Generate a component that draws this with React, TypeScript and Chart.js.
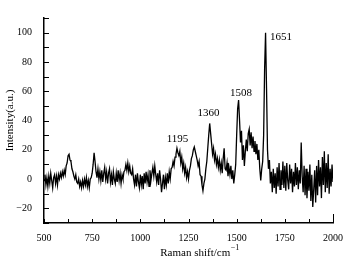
import React, { useEffect, useRef } from 'react';
import { Chart, registerables } from 'chart.js';

Chart.register(...registerables);

// Raman shift (cm^-1)
const ramanShift: number[] = [
  500, 505, 510, 515, 520, 525, 530, 535, 540, 545, 550, 555, 560, 565, 570, 575, 580, 585, 590, 595,
  600, 605, 610, 615, 620, 625, 630, 635, 640, 645, 650, 655, 660, 665, 670, 675, 680, 685, 690, 695,
  700, 705, 710, 715, 720, 725, 730, 735, 740, 745, 750, 755, 760, 765, 770, 775, 780, 785, 790, 795,
  800, 805, 810, 815, 820, 825, 830, 835, 840, 845, 850, 855, 860, 865, 870, 875, 880, 885, 890, 895,
  900, 905, 910, 915, 920, 925, 930, 935, 940, 945, 950, 955, 960, 965, 970, 975, 980, 985, 990, 995,
  1000, 1005, 1010, 1015, 1020, 1025, 1030, 1035, 1040, 1045, 1050, 1055, 1060, 1065, 1070, 1075, 1080, 1085, 1090, 1095,
  1100, 1105, 1110, 1115, 1120, 1125, 1130, 1135, 1140, 1145, 1150, 1155, 1160, 1165, 1170, 1175, 1180, 1185, 1190, 1195,
  1200, 1205, 1210, 1215, 1220, 1225, 1230, 1235, 1240, 1245, 1250, 1255, 1260, 1265, 1270, 1275, 1280, 1285, 1290, 1295,
  1300, 1305, 1310, 1315, 1320, 1325, 1330, 1335, 1340, 1345, 1350, 1355, 1360, 1365, 1370, 1375, 1380, 1385, 1390, 1395,
  1400, 1405, 1410, 1415, 1420, 1425, 1430, 1435, 1440, 1445, 1450, 1455, 1460, 1465, 1470, 1475, 1480, 1485, 1490, 1495,
  1500, 1505, 1510, 1515, 1520, 1525, 1530, 1535, 1540, 1545, 1550, 1555, 1560, 1565, 1570, 1575, 1580, 1585, 1590, 1595,
  1600, 1605, 1610, 1615, 1620, 1625, 1630, 1635, 1640, 1645, 1650, 1655, 1660, 1665, 1670, 1675, 1680, 1685, 1690, 1695,
  1700, 1705, 1710, 1715, 1720, 1725, 1730, 1735, 1740, 1745, 1750, 1755, 1760, 1765, 1770, 1775, 1780, 1785, 1790, 1795,
  1800, 1805, 1810, 1815, 1820, 1825, 1830, 1835, 1840, 1845, 1850, 1855, 1860, 1865, 1870, 1875, 1880, 1885, 1890, 1895,
  1900, 1905, 1910, 1915, 1920, 1925, 1930, 1935, 1940, 1945, 1950, 1955, 1960, 1965, 1970, 1975, 1980, 1985, 1990, 1995,
  2000,
];

// Intensity (a.u.)
const intensity: number[] = [
  -1, 3, -4, 1, -5, 2, -3, 4, -1, -6, 1, 3, -3, 2, -4, 3, 0, 4, 1, 5,
  2, 6, 3, 9, 11, 16, 17, 13, 12, 7, 5, 2, 0, 3, -2, -3, 0, -5, -2, -6,
  -1, -5, 0, -4, 1, -5, -1, -6, 0, 1, 4, 10, 18, 12, 5, 1, 7, 0, 5, -1,
  6, -2, 4, 8, 0, 5, -3, 4, 7, -2, 3, -4, 5, 0, -3, 4, -2, 6, -1, 4,
  -3, 3, 0, 5, 6, 10, 6, 11, 5, 9, 4, 3, 7, 0, -4, 3, -5, 4, -2, -6,
  3, -4, 2, -7, 4, -3, 5, -2, 3, -5, 6, -1, 4, 8, 2, 9, 3, -2, 4, -4,
  6, 0, -9, -3, 3, -7, 1, -4, 4, -3, 5, 0, 7, 8, 12, 9, 15, 17, 21, 18,
  16, 19, 11, 15, 7, 11, 4, 8, 1, 5, 0, 6, 9, 14, 16, 20, 22, 19, 16, 13,
  9, 12, 3, 2, -4, -8, -3, 0, 7, 12, 21, 30, 38, 31, 24, 17, 21, 13, 17, 10,
  14, 8, 13, 6, 11, 4, 14, 21, 7, 6, 11, 2, 8, 3, 9, 0, 6, -3, 3, 10,
  30, 48, 54, 40, 25, 33, 13, 23, 9, 19, 27, 19, 31, 34, 23, 32, 21, 29, 19, 26,
  17, 24, 13, 20, 7, -1, 7, 12, 30, 75, 100, 62, 20, 7, 13, -3, 5, -9, 7, -6,
  4, -10, 8, -5, 11, -7, 6, -4, 12, -6, 9, -8, 11, -1, -7, 10, -3, 7, -9, 5,
  -5, 11, -4, 8, -7, 6, -3, 25, 2, -9, 9, -11, 7, -13, 5, -8, 10, -15, 3, -19,
  -7, 6, -16, 9, -11, 13, -5, 8, -13, 15, -4, 19, -9, 11, -6, 17, -10, 7, -5, 10,
  -2,
];

// Peak annotations: label text and anchor (data units)
const peakLabels: string[] = ['1195', '1360', '1508', '1651'];
const peakLabelShift: number[] = [1193, 1354, 1522, 1730];
const peakLabelIntensity: number[] = [27, 45, 59, 97];

const xTitle = 'Raman shift/cm';
const xTitleSup = '\u22121';
const yTitle = 'Intensity(a.u.)';

const FONT = '"Liberation Serif", "Times New Roman", serif';

const decorPlugin = {
  id: 'decor',
  afterDraw(chart: any) {
    const { ctx, chartArea, scales } = chart;
    const xs = scales.x;
    const ys = scales.y;
    ctx.save();
    ctx.strokeStyle = '#000';
    ctx.lineWidth = 1;
    ctx.beginPath();
    ys.ticks.forEach((t: any) => {
      const py = Math.round(ys.getPixelForValue(t.value)) + 0.5;
      ctx.moveTo(chartArea.left, py);
      ctx.lineTo(chartArea.left + 5, py);
    });
    xs.ticks.forEach((t: any) => {
      const px = Math.round(xs.getPixelForValue(t.value)) + 0.5;
      const len = t.value === xs.max ? 9 : 4;
      ctx.moveTo(px, chartArea.bottom);
      ctx.lineTo(px, chartArea.bottom - len);
    });
    ctx.stroke();

    ctx.fillStyle = '#000';
    // peak labels
    ctx.font = `11px ${FONT}`;
    ctx.textAlign = 'center';
    ctx.textBaseline = 'middle';
    peakLabels.forEach((lab, i) => {
      ctx.fillText(lab, xs.getPixelForValue(peakLabelShift[i]), ys.getPixelForValue(peakLabelIntensity[i]));
    });

    // x title with superscript
    ctx.font = `11px ${FONT}`;
    ctx.textBaseline = 'alphabetic';
    ctx.textAlign = 'left';
    const w1 = ctx.measureText(xTitle).width;
    ctx.font = `8px ${FONT}`;
    const w2 = ctx.measureText(xTitleSup).width;
    const cx = (chartArea.left + chartArea.right) / 2 + 11;
    const startX = cx - (w1 + w2) / 2;
    ctx.font = `11px ${FONT}`;
    ctx.fillText(xTitle, startX, 256);
    ctx.font = `8px ${FONT}`;
    ctx.fillText(xTitleSup, startX + w1 + 0.5, 250);

    // y title
    ctx.save();
    ctx.translate(10, (chartArea.top + chartArea.bottom) / 2);
    ctx.rotate(-Math.PI / 2);
    ctx.font = `11px ${FONT}`;
    ctx.textAlign = 'center';
    ctx.textBaseline = 'middle';
    ctx.fillText(yTitle, 0, 0);
    ctx.restore();

    ctx.restore();
  },
};

export default function App() {
  const ref = useRef<HTMLCanvasElement | null>(null);
  useEffect(() => {
    if (!ref.current) return;
    const points = ramanShift.map((x, i) => ({ x, y: intensity[i] }));
    const chart = new Chart(ref.current, {
      type: 'line',
      data: {
        datasets: [
          {
            data: points,
            borderColor: '#000',
            borderWidth: 1.3,
            pointRadius: 0,
            tension: 0,
            fill: false,
          },
        ],
      },
      options: {
        responsive: false,
        animation: false,
        events: [],
        layout: { padding: { top: 13, right: 19, left: 0, bottom: 0 } },
        plugins: { legend: { display: false }, tooltip: { enabled: false } },
        scales: {
          x: {
            type: 'linear',
            min: 500,
            max: 2000,
            afterFit: (s: any) => {
              s.height = 47;
            },
            grid: { display: false, drawTicks: false },
            border: { display: true, color: '#000', width: 1.5 },
            ticks: {
              stepSize: 125,
              autoSkip: false,
              maxRotation: 0,
              padding: 9,
              color: '#000',
              font: { family: FONT, size: 10 },
              callback: (v: any) => (Number(v) % 250 === 0 ? String(v) : ''),
            },
          },
          y: {
            type: 'linear',
            min: -30,
            max: 110,
            afterFit: (s: any) => {
              s.width = 44;
            },
            grid: { display: false, drawTicks: false },
            border: { display: true, color: '#000', width: 1.5 },
            ticks: {
              stepSize: 10,
              autoSkip: false,
              padding: 12,
              color: '#000',
              font: { family: FONT, size: 10 },
              callback: (v: any) => {
                const n = Number(v);
                if (n % 20 !== 0) return '';
                return n < 0 ? '\u2212' + Math.abs(n) : String(n);
              },
            },
          },
        },
      },
      plugins: [decorPlugin],
    });
    return () => chart.destroy();
  }, []);
  return (
    <div style={{ position: 'absolute', left: 0, top: 0, width: 352, height: 270, background: '#fff' }}>
      <canvas ref={ref} width={352} height={270} />
    </div>
  );
}
